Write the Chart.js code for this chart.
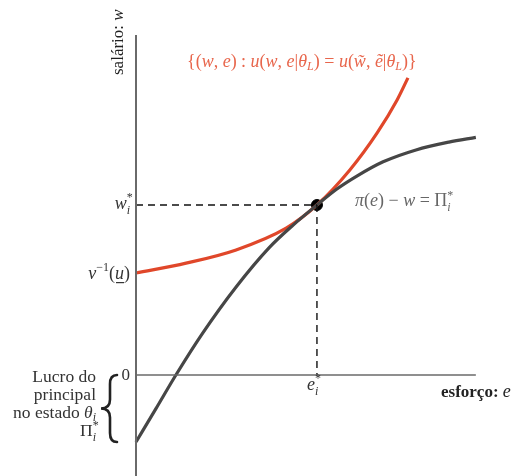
<!DOCTYPE html>
<html>
<head>
<meta charset="utf-8">
<script src="https://cdn.jsdelivr.net/npm/chart.js@4.4.1/dist/chart.umd.min.js"></script>
<style>
  html, body { margin: 0; padding: 0; background: #fff; }
  #diagram { display: block; }
</style>
</head>
<body>
<canvas id="diagram" width="512" height="476"></canvas>
<script>
// indifference curve of the agent (red), effort vs wage
const uEffort = [0, 1.43, 2.86, 4.29, 5.17, 6.11, 6.89, 7.46, 7.77];
const uWage = [3.0, 3.29, 3.68, 4.32, 5.0, 6.03, 7.12, 8.09, 8.74];

// principal's iso-profit curve (dark gray)
const piEffort = [0, 0.57, 1.14, 1.91, 2.86, 3.8, 4.49, 5.17, 5.74, 6.31, 7.06, 8.0, 8.94, 9.71];
const piWage = [-1.97, -0.99, 0, 1.24, 2.59, 3.74, 4.41, 5.0, 5.47, 5.85, 6.27, 6.62, 6.85, 6.99];

// optimum and reservation wage
const eStar = 5.17;
const wStar = 5.0;
const reservationWage = 3.0;

// axis extents
const eMax = 9.71;
const wTop = 10;
const wBottom = -2.97;

const RED = '#e0472a';
const RED_TEXT = '#e8664c';
const CURVE_GRAY = '#464646';
const AXIS_GRAY = '#6a6a6a';
const TEXT = '#333';

function pts(xs, ys) {
    return xs.map((x, i) => ({ x: x, y: ys[i] }));
}

const SERIF = '"Liberation Serif", "DejaVu Serif", serif';
const up = size => size + 'px ' + SERIF;
const it = size => 'italic ' + size + 'px ' + SERIF;

// draws a row of text pieces: [text, font, dy, noAdvance, underline]
function rich(ctx, x, y, parts, align) {
    let w = 0;
    parts.forEach(p => {
        ctx.font = p[1];
        if (!p[3]) w += ctx.measureText(p[0]).width;
    });
    let cx = align === 'right' ? x - w : align === 'center' ? x - w / 2 : x;
    parts.forEach(p => {
        ctx.font = p[1];
        const tw = ctx.measureText(p[0]).width;
        ctx.fillText(p[0], cx, y + (p[2] || 0));
        if (p[4]) {
            ctx.fillRect(cx + 1, y + 3, tw - 1, 1.2);
        }
        if (!p[3]) cx += tw;
    });
}

const labels = {
    id: 'labels',
    afterDatasetsDraw(chart) {
        const ctx = chart.ctx;
        const xs = chart.scales.x, ys = chart.scales.y;
        const x0 = xs.getPixelForValue(0);
        ctx.save();
        ctx.textBaseline = 'alphabetic';
        ctx.textAlign = 'left';

        // y axis title
        ctx.save();
        ctx.translate(123, 75);
        ctx.rotate(-Math.PI / 2);
        ctx.fillStyle = '#222';
        rich(ctx, 0, 0, [['salário: ', up(17)], ['w', it(17)]], 'left');
        ctx.restore();

        // curve set label
        ctx.fillStyle = RED_TEXT;
        const f = 18, s = 12;
        rich(ctx, 187, 67, [
            ['{(', up(f)], ['w', it(f)], [', ', up(f)], ['e', it(f)], [') : ', up(f)],
            ['u', it(f)], ['(', up(f)], ['w', it(f)], [', ', up(f)], ['e', it(f)], ['|', up(f)],
            ['θ', it(f)], ['L', it(s), 3], [') = ', up(f)],
            ['u', it(f)], ['(', up(f)], ['w\u0303', it(f)], [', ', up(f)], ['\u1EBD', it(f)], ['|', up(f)],
            ['θ', it(f)], ['L', it(s), 3], [')}', up(f)]
        ], 'left');

        // iso-profit label
        ctx.fillStyle = '#666';
        rich(ctx, 355, 206, [
            ['π', it(f)], ['(', up(f)], ['e', it(f)], [') − ', up(f)], ['w', it(f)],
            [' = Π', up(f)], ['*', up(s), -7, true], ['i', it(s), 5]
        ], 'left');

        // wage and effort ticks
        ctx.fillStyle = TEXT;
        const yW = ys.getPixelForValue(wStar);
        rich(ctx, x0 - 6, yW + 4, [['w', it(f)], ['*', up(s), -8, true], ['i', it(s), 5]], 'right');
        const yR = ys.getPixelForValue(reservationWage);
        rich(ctx, x0 - 6, yR + 6, [
            ['v', it(f)], ['−1', up(s), -8], ['(', up(f)], ['u', it(f), 0, false, true], [')', up(f)]
        ], 'right');
        const y0 = ys.getPixelForValue(0);
        rich(ctx, x0 - 6, y0 + 5, [['0', up(17)]], 'right');
        const xE = xs.getPixelForValue(eStar);
        rich(ctx, xE - 10, y0 + 15, [['e', it(f)], ['*', up(s), -8, true], ['i', it(s), 5]], 'left');

        // x axis title
        ctx.fillStyle = '#222';
        rich(ctx, 441, 397, [['esforço: ', 'bold ' + up(17)], ['e', it(18)]], 'left');

        // principal's profit note
        ctx.fillStyle = TEXT;
        const n = 17.5;
        rich(ctx, 96, 382, [['Lucro do', up(n)]], 'right');
        rich(ctx, 96, 400, [['principal', up(n)]], 'right');
        rich(ctx, 96, 418, [['no estado ', up(n)], ['θ', it(n)], ['i', it(s), 3]], 'right');
        rich(ctx, 96, 436, [['Π', up(n)], ['*', up(s), -7, true], ['i', it(s), 5]], 'right');

        // brace spanning zero down to the intercept
        const top = y0, bot = ys.getPixelForValue(piWage[0]);
        const mid = (top + bot) / 2, bx = 110, tip = 101;
        ctx.strokeStyle = '#222';
        ctx.lineWidth = 2.6;
        ctx.lineCap = 'round';
        ctx.beginPath();
        ctx.moveTo(bx + 7, top);
        ctx.quadraticCurveTo(bx, top, bx, top + 9);
        ctx.lineTo(bx, mid - 9);
        ctx.quadraticCurveTo(bx, mid, tip, mid);
        ctx.quadraticCurveTo(bx, mid, bx, mid + 9);
        ctx.lineTo(bx, bot - 9);
        ctx.quadraticCurveTo(bx, bot, bx + 7, bot);
        ctx.stroke();

        ctx.restore();
    }
};

new Chart(document.getElementById('diagram'), {
    type: 'line',
    data: {
        datasets: [
            {
                // vertical axis
                data: pts([0, 0], [wBottom, wTop]),
                borderColor: AXIS_GRAY, borderWidth: 2, pointRadius: 0
            },
            {
                // horizontal axis
                data: pts([0, eMax], [0, 0]),
                borderColor: AXIS_GRAY, borderWidth: 1.5, pointRadius: 0
            },
            {
                data: pts([0, eStar], [wStar, wStar]),
                borderColor: '#111', borderWidth: 1.4, borderDash: [7, 5], pointRadius: 0
            },
            {
                data: pts([eStar, eStar], [wStar, 0]),
                borderColor: '#111', borderWidth: 1.4, borderDash: [7, 5], pointRadius: 0
            },
            {
                data: pts(piEffort, piWage),
                borderColor: CURVE_GRAY, borderWidth: 3.2, pointRadius: 0,
                cubicInterpolationMode: 'monotone'
            },
            {
                data: pts(uEffort, uWage),
                borderColor: RED, borderWidth: 3.2, pointRadius: 0,
                cubicInterpolationMode: 'monotone'
            },
            {
                data: pts([eStar], [wStar]),
                showLine: false, pointRadius: 5.5,
                pointBackgroundColor: '#000', pointBorderColor: '#000'
            }
        ]
    },
    options: {
        responsive: false,
        animation: false,
        devicePixelRatio: 1,
        layout: { autoPadding: false, padding: { left: 136, right: 26, top: 35, bottom: 0 } },
        plugins: { legend: { display: false }, tooltip: { enabled: false } },
        scales: {
            x: { type: 'linear', min: 0, max: 10, display: false },
            y: { type: 'linear', min: wBottom, max: wTop, display: false }
        },
        elements: { line: { borderCapStyle: 'butt' } },
        clip: false
    },
    plugins: [labels]
});
</script>
</body>
</html>
